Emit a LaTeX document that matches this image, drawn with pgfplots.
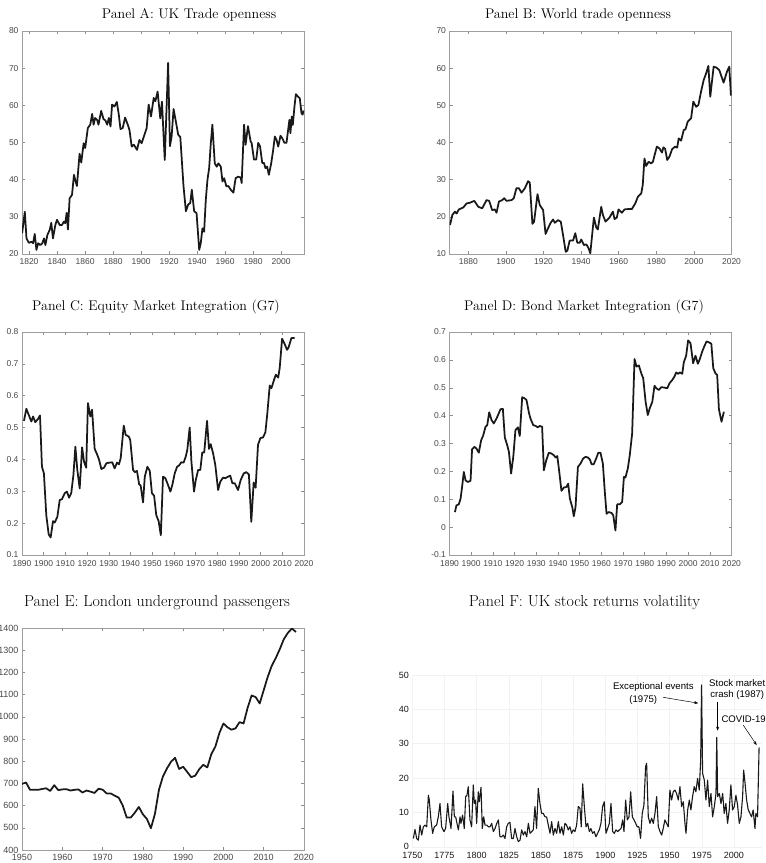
\documentclass[border=0pt]{standalone}
\usepackage{fontspec}
\usepackage{pgfplots}
\pgfplotsset{compat=1.18}
\usetikzlibrary{arrows.meta}
\newfontfamily\helv{Liberation Sans}

\pgfplotstableread{
x y
1815.1 25.6
1817.0 31.4
1818.2 24.2
1819.9 23.0
1821.7 23.3
1822.9 22.9
1824.1 25.4
1825.3 21.1
1826.5 22.9
1828.1 22.4
1829.5 22.9
1830.7 24.2
1831.7 22.4
1833.1 25.1
1834.8 26.5
1835.9 28.4
1837.1 24.2
1838.8 27.8
1840.0 29.2
1841.9 27.8
1843.5 27.8
1844.9 28.7
1845.9 28.3
1846.9 31.1
1847.8 26.6
1849.0 35.0
1850.7 35.9
1852.1 41.3
1853.0 39.9
1854.2 38.3
1856.1 47.0
1857.3 44.6
1859.0 49.8
1860.1 48.5
1862.0 53.9
1863.7 54.8
1865.1 57.7
1866.1 54.8
1867.2 56.6
1868.6 56.1
1869.6 54.8
1871.5 58.5
1873.2 56.3
1874.6 55.9
1875.8 54.8
1877.0 56.6
1878.2 54.3
1879.3 60.2
1881.0 59.7
1882.7 60.9
1884.1 57.5
1885.3 53.6
1886.9 53.9
1888.6 56.7
1890.5 54.8
1891.7 53.4
1893.3 48.9
1894.8 49.4
1895.7 48.9
1897.1 48.0
1898.8 50.7
1900.4 49.8
1902.4 52.1
1904.0 53.9
1905.4 60.2
1907.1 57.0
1909.0 62.0
1910.2 61.1
1911.8 63.7
1913.7 56.5
1914.9 61.0
1916.9 45.3
1919.3 71.4
1920.6 49.0
1921.8 51.6
1923.2 59.0
1924.8 55.7
1926.5 52.1
1928.0 51.5
1930.3 38.2
1932.0 31.5
1933.6 33.3
1935.1 33.7
1936.2 37.3
1937.9 31.5
1939.6 31.0
1941.5 21.1
1942.6 22.9
1943.8 26.9
1945.0 26.0
1946.2 34.6
1947.4 40.0
1948.6 43.1
1949.7 49.4
1950.9 54.8
1952.6 44.4
1954.0 43.5
1955.2 44.4
1956.9 43.5
1958.1 39.5
1959.3 40.4
1960.9 38.2
1962.3 38.3
1964.0 37.3
1965.9 36.5
1967.5 40.4
1969.2 40.8
1971.1 40.6
1971.8 39.1
1973.5 54.8
1974.6 49.4
1976.3 54.4
1978.2 50.3
1978.9 49.9
1980.6 45.4
1982.2 45.4
1983.6 49.9
1984.9 49.0
1986.5 44.5
1987.7 44.5
1988.8 43.1
1990.0 43.5
1991.2 41.3
1992.9 44.4
1994.3 48.0
1995.5 51.6
1996.7 50.7
1997.9 48.9
1999.5 51.8
2000.7 51.2
2002.4 49.9
2003.8 49.9
2005.0 53.5
2005.9 56.1
2006.6 52.5
2007.6 57.0
2008.3 54.7
2009.5 59.7
2010.5 63.0
2011.9 62.4
2013.3 61.9
2014.5 57.9
2015.3 57.5
2016.0 58.6
}\dataA

\pgfplotstableread{
x y
1870.3 17.8
1871.5 20.5
1872.9 21.4
1873.8 20.9
1875.0 22.0
1877.3 22.5
1879.1 23.6
1880.9 23.8
1883.2 24.3
1885.3 22.7
1887.4 22.3
1889.7 24.5
1891.1 24.3
1892.7 21.8
1894.1 22.0
1895.0 21.1
1896.3 24.1
1898.0 24.5
1899.1 25.0
1900.3 24.3
1903.0 24.5
1904.2 25.0
1905.6 27.7
1906.9 27.7
1908.3 26.5
1910.1 27.7
1911.8 29.6
1912.7 29.2
1914.1 18.1
1915.0 18.7
1916.8 26.1
1918.0 23.2
1919.8 21.8
1921.1 15.4
1922.4 16.9
1923.7 18.3
1925.1 19.3
1926.0 18.4
1927.7 19.1
1929.2 18.7
1930.4 15.1
1931.8 10.6
1932.7 10.9
1933.9 13.6
1935.7 13.6
1936.9 15.6
1938.0 13.0
1939.2 13.0
1940.1 13.9
1941.5 12.4
1942.8 12.6
1944.0 11.5
1944.9 10.2
1946.8 19.8
1948.1 17.1
1948.9 16.6
1950.7 22.7
1951.6 20.5
1953.0 18.7
1955.1 19.8
1956.9 21.4
1957.8 19.4
1959.0 19.8
1959.9 22.0
1961.7 21.1
1963.1 22.0
1965.2 22.1
1967.0 22.1
1968.8 23.6
1970.2 25.4
1972.0 26.3
1972.8 28.6
1973.7 35.7
1974.6 33.7
1975.9 34.8
1977.3 34.4
1978.2 34.8
1979.1 36.6
1980.3 38.9
1981.7 38.4
1983.0 37.3
1983.8 38.7
1984.7 38.3
1985.8 35.3
1987.0 36.2
1988.4 38.2
1990.0 38.9
1991.1 38.6
1991.9 41.1
1993.2 40.5
1994.6 43.4
1995.5 43.5
1996.7 45.6
1998.5 46.5
1999.7 51.0
2001.2 49.6
2002.4 50.1
2003.8 53.7
2005.2 56.8
2006.5 58.6
2007.7 60.6
2008.7 52.3
2010.5 60.4
2011.8 60.2
2013.5 59.5
2015.8 56.1
2017.6 59.1
2018.8 60.4
2019.7 52.6
}\dataB

\pgfplotstableread{
x y
1890.9 0.521
1892.0 0.559
1893.2 0.538
1894.3 0.519
1895.1 0.535
1896.1 0.517
1897.4 0.527
1898.3 0.538
1899.2 0.377
1900.1 0.356
1901.2 0.225
1902.3 0.165
1903.2 0.155
1904.3 0.206
1905.1 0.202
1906.3 0.220
1907.4 0.273
1908.4 0.275
1909.7 0.294
1910.7 0.299
1911.7 0.280
1912.7 0.294
1913.7 0.351
1914.6 0.440
1915.5 0.367
1916.6 0.309
1917.7 0.438
1918.6 0.393
1919.6 0.374
1920.4 0.577
1921.5 0.535
1922.3 0.556
1923.5 0.433
1924.6 0.416
1925.5 0.400
1926.6 0.370
1927.8 0.374
1928.9 0.388
1930.4 0.390
1931.6 0.391
1932.7 0.372
1933.8 0.390
1934.7 0.385
1935.5 0.404
1936.9 0.506
1937.8 0.477
1939.2 0.472
1939.9 0.461
1941.2 0.367
1942.0 0.360
1943.0 0.364
1944.0 0.322
1944.7 0.318
1945.8 0.265
1946.6 0.346
1947.8 0.377
1948.9 0.364
1949.9 0.294
1950.9 0.286
1951.9 0.225
1953.0 0.206
1954.0 0.162
1955.0 0.346
1956.1 0.341
1957.3 0.320
1958.4 0.299
1959.3 0.320
1960.4 0.356
1961.5 0.377
1962.4 0.381
1963.4 0.391
1964.5 0.390
1965.5 0.409
1966.2 0.430
1967.3 0.500
1968.1 0.393
1969.3 0.299
1970.1 0.335
1971.2 0.367
1972.2 0.367
1973.1 0.422
1974.0 0.422
1975.3 0.521
1976.2 0.433
1977.0 0.448
1978.1 0.419
1979.1 0.383
1980.4 0.304
1981.4 0.330
1982.7 0.343
1983.7 0.341
1985.0 0.346
1986.0 0.349
1987.0 0.325
1988.1 0.325
1989.6 0.304
1990.8 0.335
1992.2 0.356
1993.4 0.360
1994.6 0.353
1995.7 0.204
1996.8 0.328
1997.7 0.311
1998.8 0.446
1999.9 0.467
2001.1 0.469
2002.2 0.485
2003.1 0.545
2004.2 0.632
2005.0 0.624
2006.2 0.650
2007.0 0.666
2008.1 0.657
2008.8 0.687
2009.9 0.779
2011.1 0.762
2012.2 0.744
2012.9 0.752
2014.2 0.781
2015.7 0.781
}\dataC

\pgfplotstableread{
x y
1892.5 0.054
1893.2 0.078
1894.3 0.082
1895.1 0.102
1895.8 0.144
1896.6 0.198
1897.4 0.168
1898.4 0.162
1899.7 0.166
1900.4 0.279
1901.5 0.288
1902.4 0.282
1903.5 0.267
1904.6 0.312
1905.5 0.328
1906.6 0.360
1907.4 0.366
1908.3 0.412
1909.4 0.384
1910.4 0.372
1911.7 0.390
1912.7 0.408
1913.5 0.423
1914.6 0.424
1915.5 0.322
1916.6 0.294
1917.4 0.270
1918.4 0.192
1919.4 0.252
1920.4 0.348
1921.5 0.358
1922.4 0.327
1923.5 0.466
1924.6 0.462
1925.5 0.456
1926.6 0.411
1927.3 0.390
1928.6 0.366
1929.7 0.363
1930.7 0.358
1931.6 0.363
1932.7 0.360
1933.5 0.204
1934.6 0.240
1935.8 0.267
1937.0 0.264
1938.1 0.258
1938.9 0.250
1939.7 0.255
1940.7 0.192
1941.6 0.130
1942.7 0.142
1943.9 0.144
1944.7 0.156
1945.5 0.102
1946.6 0.072
1947.3 0.039
1948.1 0.072
1949.2 0.216
1950.4 0.228
1951.6 0.246
1952.7 0.252
1953.8 0.250
1954.7 0.243
1955.5 0.226
1956.5 0.226
1957.6 0.246
1958.6 0.267
1959.6 0.267
1960.7 0.228
1961.6 0.126
1962.4 0.048
1963.4 0.054
1964.7 0.051
1965.5 0.042
1966.5 -0.012
1967.3 0.082
1968.5 0.082
1969.6 0.090
1970.4 0.180
1971.1 0.178
1972.2 0.210
1973.1 0.258
1974.2 0.336
1975.3 0.603
1976.2 0.576
1977.3 0.580
1978.4 0.552
1979.3 0.534
1980.4 0.450
1981.4 0.402
1982.3 0.426
1983.5 0.450
1984.5 0.507
1985.4 0.498
1986.5 0.492
1987.6 0.502
1988.8 0.501
1990.4 0.498
1991.4 0.516
1992.7 0.528
1993.7 0.540
1994.5 0.555
1995.4 0.550
1996.2 0.555
1997.3 0.550
1998.0 0.591
1999.1 0.615
2000.0 0.670
2001.1 0.660
2002.3 0.588
2003.4 0.615
2004.5 0.586
2005.4 0.603
2006.5 0.630
2007.6 0.651
2008.5 0.666
2009.6 0.663
2010.7 0.658
2011.6 0.570
2012.6 0.552
2013.4 0.546
2014.2 0.423
2015.4 0.378
2016.5 0.414
}\dataD

\pgfplotstableread{
x y
1950 698
1951 704
1952 671
1953 671
1954 671
1955 675
1956 678
1957 666
1958 692
1959 670
1960 673
1961 674
1962 668
1963 671
1964 673
1965 659
1966 668
1967 663
1968 657
1969 676
1970 672
1971 655
1972 655
1973 645
1974 636
1975 601
1976 546
1977 546
1978 568
1979 594
1980 561
1981 540
1982 498
1983 563
1984 672
1985 732
1986 768
1987 798
1988 815
1989 765
1990 775
1991 752
1992 728
1993 735
1994 764
1995 784
1996 772
1997 832
1998 866
1999 927
2000 970
2001 953
2002 942
2003 948
2004 976
2005 970
2006 1040
2007 1096
2008 1089
2009 1060
2010 1120
2011 1180
2012 1230
2013 1265
2014 1305
2015 1350
2016 1378
2017 1398
2018 1382
}\dataE

\pgfplotstableread{
x y
1750.8 2.4
1752.1 5.0
1753.4 2.4
1754.7 1.9
1756.0 6.3
1757.3 3.4
1758.6 5.8
1759.9 6.3
1761.2 5.8
1762.5 15.0
1763.2 13.6
1764.5 7.8
1765.8 3.9
1767.1 5.8
1768.9 6.3
1770.2 8.7
1771.5 12.6
1772.8 5.8
1774.6 4.4
1775.9 5.3
1777.5 12.6
1778.5 8.7
1780.1 5.3
1781.6 16.2
1782.7 8.7
1783.7 8.7
1785.0 6.3
1785.8 4.9
1787.1 8.7
1787.8 6.8
1789.1 9.2
1790.4 5.3
1791.5 14.6
1792.5 15.0
1793.5 17.5
1794.8 7.8
1796.1 5.8
1797.4 18.0
1798.2 12.6
1799.2 13.6
1800.0 6.8
1801.3 16.0
1802.1 13.1
1803.4 17.3
1804.4 5.3
1805.5 8.7
1806.5 6.3
1807.8 6.3
1809.1 5.8
1810.4 5.8
1811.7 6.8
1813.0 4.4
1814.3 5.3
1815.6 6.8
1816.9 7.8
1818.1 2.9
1819.4 2.9
1820.7 3.4
1822.0 2.4
1823.3 5.8
1824.6 6.8
1825.9 7.1
1827.2 2.4
1828.5 2.4
1829.8 5.3
1831.1 2.9
1832.4 1.5
1833.7 1.9
1835.0 4.9
1836.3 3.4
1837.6 4.4
1838.9 2.9
1840.2 6.8
1841.5 3.9
1842.8 4.4
1844.0 4.9
1845.3 11.7
1846.6 5.3
1847.9 17.0
1849.2 12.6
1850.5 9.7
1851.8 9.7
1853.1 8.7
1854.4 8.7
1855.7 6.3
1857.0 3.9
1858.3 7.3
1859.6 3.4
1860.9 5.3
1862.2 3.9
1863.5 7.3
1864.8 3.9
1866.1 5.8
1867.4 3.4
1868.6 6.8
1869.9 6.3
1871.2 4.9
1872.5 5.8
1873.8 3.9
1875.1 4.9
1876.4 4.4
1877.7 6.3
1879.0 11.7
1880.3 11.2
1881.3 5.8
1882.4 18.3
1883.7 11.7
1885.0 5.8
1886.3 6.8
1887.6 4.4
1888.8 5.3
1890.1 3.9
1891.4 4.4
1892.7 2.9
1894.0 3.9
1895.3 4.9
1896.6 6.8
1897.9 11.7
1899.2 13.1
1900.5 3.9
1901.8 5.3
1903.1 6.8
1904.4 12.6
1905.7 4.4
1907.0 3.9
1908.3 4.9
1909.6 4.4
1910.9 4.9
1912.2 5.3
1913.5 7.8
1914.5 4.4
1915.8 13.6
1917.1 7.8
1918.4 8.7
1919.7 16.0
1921.0 8.7
1922.3 7.8
1923.6 6.8
1924.8 5.8
1926.1 5.8
1927.4 2.4
1928.7 9.7
1930.0 12.1
1931.3 23.3
1932.1 24.3
1933.4 8.7
1934.7 6.8
1936.0 8.3
1937.3 6.8
1938.6 9.7
1939.9 14.6
1941.2 5.8
1942.5 4.4
1943.8 3.4
1945.0 5.3
1946.3 7.8
1947.6 6.8
1948.9 5.8
1950.2 16.5
1951.5 13.6
1952.8 16.0
1954.1 16.5
1955.4 15.5
1956.7 13.6
1958.0 17.5
1959.3 11.7
1960.6 13.1
1961.9 6.8
1962.7 3.9
1964.0 10.7
1965.3 13.6
1966.5 10.7
1967.8 14.6
1969.1 17.5
1970.4 16.0
1971.7 19.9
1973.0 16.5
1974.1 25.2
1974.8 47.1
1975.6 21.4
1976.9 19.4
1978.2 13.6
1979.5 19.4
1980.8 11.7
1982.1 15.5
1983.4 8.7
1984.7 11.7
1986.0 15.5
1986.6 31.8
1987.3 14.6
1988.6 15.5
1989.9 12.6
1991.2 15.5
1992.4 9.7
1993.7 12.6
1995.0 6.8
1996.3 10.7
1997.6 18.0
1998.9 10.7
2000.2 11.7
2001.5 15.0
2002.8 12.1
2004.1 6.8
2005.4 8.7
2006.7 14.6
2007.5 22.3
2008.5 18.9
2009.8 13.6
2011.1 10.7
2012.4 9.7
2013.7 8.7
2014.9 10.7
2016.3 5.3
2017.0 9.7
2018.3 8.7
2019.5 28.9
}\dataF

\pgfplotsset{
  matlab/.style={
    scale only axis, width=282pt, height=223pt,
    axis line style={draw=black!38, line width=0.6pt},
    tick style={draw=black!45, line width=0.5pt},
    major tick length=3pt,
    tick align=inside,
    ticklabel style={font=\helv\fontsize{8.5}{9.5}\selectfont, text=black!72},
    xticklabel style={yshift=-1pt},
    /pgf/number format/assume math mode=true,
    /pgf/number format/set thousands separator={},
    scaled ticks=false,
    every axis plot/.append style={line width=1.75pt, color=black!90, line join=round},
  }
}

\begin{document}
\begin{tikzpicture}
\path[use as bounding box] (0pt,0pt) rectangle (766pt,-863pt);

% Panel A
\begin{axis}[matlab, at={(22pt,-31pt)}, anchor=north west,
  xmin=1815, xmax=2016.3, ymin=20, ymax=80,
  xtick={1820,1840,...,2000}, ytick={20,30,...,80}]
\addplot[no marks] table[x=x,y=y] {\dataA};
\end{axis}
\node[font=\fontsize{14}{16}\selectfont] at (189pt,-15pt) {Panel A: UK Trade openness};

% Panel B
\begin{axis}[matlab, at={(449.5pt,-31pt)}, anchor=north west,
  xmin=1870, xmax=2020, ymin=10, ymax=70,
  xtick={1880,1900,...,2020}, ytick={10,20,...,70}]
\addplot[no marks] table[x=x,y=y] {\dataB};
\end{axis}
\node[font=\fontsize{14}{16}\selectfont] at (578pt,-15pt) {Panel B: World trade openness};

% Panel C
\begin{axis}[matlab, at={(22pt,-332pt)}, anchor=north west,
  xmin=1890, xmax=2020, ymin=0.1, ymax=0.8,
  xtick={1890,1900,...,2020}, ytick={0.1,0.2,0.3,0.4,0.5,0.6,0.7,0.8},
  xticklabel style={yshift=-1.5pt}]
\addplot[no marks] table[x=x,y=y] {\dataC};
\end{axis}
\node[font=\fontsize{14}{16}\selectfont] at (156pt,-307pt) {Panel C: Equity Market Integration (G7)};

% Panel D
\begin{axis}[matlab, at={(449.5pt,-332pt)}, anchor=north west,
  xmin=1890, xmax=2020, ymin=-0.1, ymax=0.7,
  xtick={1890,1900,...,2020}, ytick={-0.1,0,0.1,0.2,0.3,0.4,0.5,0.6,0.7},
  xticklabel style={yshift=-1.5pt}]
\addplot[no marks] table[x=x,y=y] {\dataD};
\end{axis}
\node[font=\fontsize{14}{16}\selectfont] at (584pt,-307pt) {Panel D: Bond Market Integration (G7)};

% Panel E
\begin{axis}[matlab, at={(22pt,-628pt)}, anchor=north west, height=222pt,
  xmin=1950, xmax=2020, ymin=400, ymax=1400,
  xtick={1950,1960,...,2020}, ytick={400,500,...,1400},
  ticklabel style={font=\helv\fontsize{9}{10}\selectfont}]
\addplot[no marks] table[x=x,y=y] {\dataE};
\end{axis}
\node[font=\fontsize{16}{18}\selectfont] at (157pt,-603pt) {Panel E: London underground passengers};

% Panel F
\begin{axis}[at={(412.3pt,-846.7pt)}, anchor=south west,
  scale only axis, width=350pt, height=171.7pt,
  xmin=1750, xmax=2022, ymin=0, ymax=50,
  xtick={1750,1775,...,2000}, ytick={0,10,...,50},
  axis line style={draw=none}, major tick length=0pt,
  grid=major, grid style={draw=black!5, line width=0.4pt},
  ticklabel style={font=\helv\fontsize{9}{10}\selectfont, text=black!90},
  xticklabel style={yshift=-2pt},
  /pgf/number format/assume math mode=true,
  /pgf/number format/set thousands separator={},
  scaled ticks=false, clip=false]
\addplot[no marks, line width=1.1pt, color=black!90, line join=round] table[x=x,y=y] {\dataF};
\node[font=\helv\fontsize{9.6}{11}\selectfont] at (axis cs:1937.3,46.4) {Exceptional events};
\node[font=\helv\fontsize{9.6}{11}\selectfont] at (axis cs:1929.5,42.7) {(1975)};
\draw[-{Stealth[length=4pt,width=3pt]}, line width=0.5pt] (axis cs:1945.0,43.5) -- (axis cs:1972.2,41.8);
\node[font=\helv\fontsize{9.6}{11}\selectfont, align=center] at (axis cs:2002.5,45.8) {Stock market\\crash (1987)};
\draw[-{Stealth[length=4pt,width=3pt]}, line width=0.5pt] (axis cs:1987.3,42.2) -- (axis cs:1987.3,33.8);
\node[font=\helv\fontsize{9.6}{11}\selectfont] at (axis cs:2007.5,37.1) {COVID-19};
\draw[-{Stealth[length=4pt,width=3pt]}, line width=0.5pt] (axis cs:2007.2,35.4) -- (axis cs:2017.6,29.6);
\end{axis}
\node[font=\fontsize{16}{18}\selectfont] at (584.5pt,-603pt) {Panel F: UK stock returns volatility};
\end{tikzpicture}
\end{document}
